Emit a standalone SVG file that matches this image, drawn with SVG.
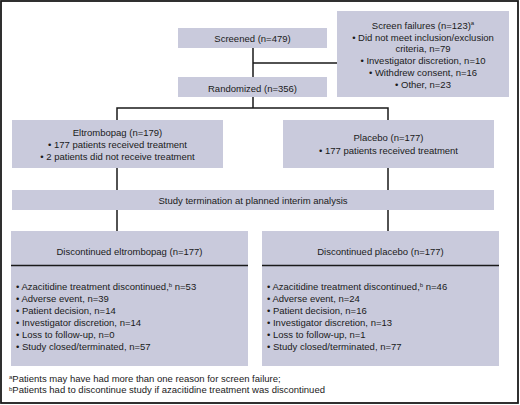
<svg xmlns="http://www.w3.org/2000/svg" width="520" height="405" viewBox="0 0 520 405">
<style>
.box{fill:#c9cadc}
text{font-family:"Liberation Sans",Arial,sans-serif;font-size:9.5px;fill:#1a1a1a}
.c{text-anchor:middle}
.ln{stroke:#1a1a1a;stroke-width:1.5;fill:none}
</style>
<rect x="1" y="1" width="517" height="402" fill="#fff" stroke="#1a1a1a" stroke-width="1.8"/>
<g id="screened"><rect class="box" x="178" y="28" width="149" height="20"/><text class="c" x="252.5" y="41.5">Screened (n=479)</text></g>
<g id="screen-failures"><rect class="box" x="337" y="11" width="172" height="86"/>
<text class="c" x="423" y="28.5">Screen failures (n=123)<tspan font-size="6" dy="-4">a</tspan></text>
<text class="c" x="423" y="40.5">• Did not meet inclusion/exclusion</text>
<text class="c" x="423" y="52">criteria, n=79</text>
<text class="c" x="423" y="64">• Investigator discretion, n=10</text>
<text class="c" x="423" y="75.5">• Withdrew consent, n=16</text>
<text class="c" x="423" y="87.5">• Other, n=23</text></g>
<g id="randomized"><rect class="box" x="178" y="77" width="149" height="20"/><text class="c" x="252.5" y="91.5">Randomized (n=356)</text></g>
<g id="eltrombopag"><rect class="box" x="12" y="120" width="211" height="48"/>
<text class="c" x="117.5" y="135.5">Eltrombopag (n=179)</text>
<text class="c" x="117.5" y="147.5">• 177 patients received treatment</text>
<text class="c" x="117.5" y="159.5">• 2 patients did not receive treatment</text></g>
<g id="placebo"><rect class="box" x="283" y="120" width="211" height="48"/>
<text class="c" x="388.5" y="141">Placebo (n=177)</text>
<text class="c" x="388.5" y="153.5">• 177 patients received treatment</text></g>
<g id="termination"><rect class="box" x="12" y="190" width="482" height="20"/><text class="c" x="253" y="203.5">Study termination at planned interim analysis</text></g>
<g id="disc-eltrombopag"><rect class="box" x="11" y="231" width="237" height="135"/>
<line x1="11" y1="265.5" x2="248" y2="265.5" stroke="#1a1a1a" stroke-width="1.6"/>
<text class="c" x="129.5" y="254.5">Discontinued eltrombopag (n=177)</text>
<text x="16" y="289.5">• Azacitidine treatment discontinued,<tspan font-size="6" dy="-3">b</tspan><tspan dy="3"> n=53</tspan></text>
<text x="16" y="301.5">• Adverse event, n=39</text>
<text x="16" y="313.5">• Patient decision, n=14</text>
<text x="16" y="325.5">• Investigator discretion, n=14</text>
<text x="16" y="337.5">• Loss to follow-up, n=0</text>
<text x="16" y="349.5">• Study closed/terminated, n=57</text></g>
<g id="disc-placebo"><rect class="box" x="262" y="231" width="237" height="135"/>
<line x1="262" y1="265.5" x2="499" y2="265.5" stroke="#1a1a1a" stroke-width="1.6"/>
<text class="c" x="380.5" y="254.5">Discontinued placebo (n=177)</text>
<text x="267" y="289.5">• Azacitidine treatment discontinued,<tspan font-size="6" dy="-3">b</tspan><tspan dy="3"> n=46</tspan></text>
<text x="267" y="301.5">• Adverse event, n=24</text>
<text x="267" y="313.5">• Patient decision, n=16</text>
<text x="267" y="325.5">• Investigator discretion, n=13</text>
<text x="267" y="337.5">• Loss to follow-up, n=1</text>
<text x="267" y="349.5">• Study closed/terminated, n=77</text></g>
<g id="connectors">
<path class="ln" d="M253 48V77M253 63H337M253 97V108M117 108H388M117 107.3V120M388 107.3V120M117 168V190M388 168V190M117 210V231M388 210V231"/>
</g>
<g id="footnotes">
<text x="9" y="381.5"><tspan font-size="6" dy="-3">a</tspan><tspan dy="3">Patients may have had more than one reason for screen failure;</tspan></text>
<text x="9" y="392.5"><tspan font-size="6" dy="-2">b</tspan><tspan dy="2">Patients had to discontinue study if azacitidine treatment was discontinued</tspan></text>
</g>
</svg>
